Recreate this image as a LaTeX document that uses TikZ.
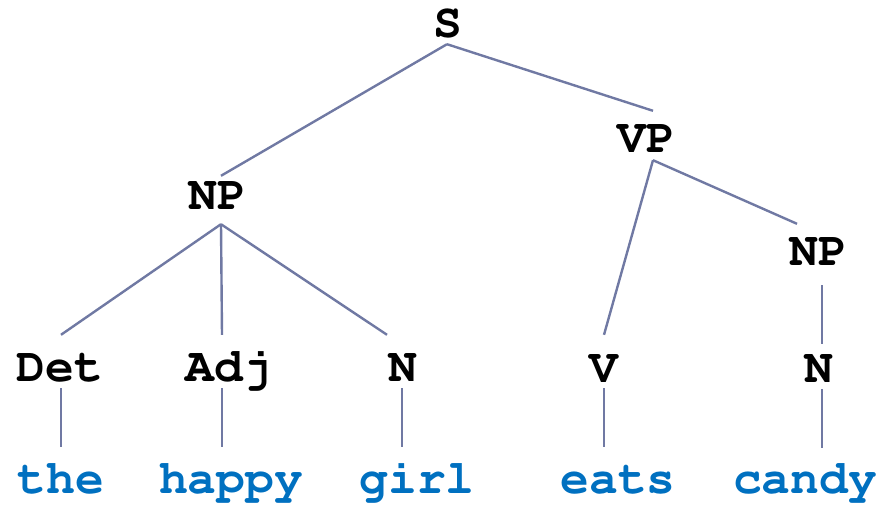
\documentclass[tikz,border=0pt]{standalone}
\usepackage[T1]{fontenc}
\definecolor{linkgray}{RGB}{112,121,163}
\definecolor{wordblue}{RGB}{0,112,192}
\tikzset{
  cat/.style={anchor=base, inner sep=0pt, text height=26pt, text depth=0pt,
              font=\fontfamily{pcr}\bfseries\fontsize{48}{48}\selectfont, text=black},
  word/.style={cat, text=wordblue},
  link/.style={draw=linkgray, line width=2.4pt}
}
\begin{document}
\begin{tikzpicture}[x=1pt, y=-1pt]
  \useasboundingbox (0,0) rectangle (879,506);

  % phrase labels
  \node[cat] (S)   at (448,37)  {S};
  \node[cat] (NPa) at (217,209) {NP};
  \node[cat] (VP)  at (646,152) {VP};
  \node[cat] (NPb) at (818,265) {NP};

  % pre-terminals
  \node[cat] (Det) at (60,381)  {Det};
  \node[cat] (Adj) at (229,381) {Adj};
  \node[cat] (Na)  at (403,381) {N};
  \node[cat] (V)   at (604,382) {V};
  \node[cat] (Nb)  at (819,382) {N};

  % words
  \node[word] (the)   at (61,493)  {the};
  \node[word] (happy) at (231,493) {happy};
  \node[word] (girl)  at (417,493) {girl};
  \node[word] (eats)  at (618,493) {eats};
  \node[word] (candy) at (805,493) {candy};

  % branches
  \draw[link] ([xshift=-1pt,yshift=-7pt]S.south)   -- ([xshift=4pt,yshift=7pt]NPa.north);
  \draw[link] ([xshift=-1pt,yshift=-7pt]S.south)   -- ([xshift=7pt,yshift=15pt]VP.north);
  \draw[link] ([xshift=4pt,yshift=-15pt]NPa.south) -- ([xshift=1pt,yshift=20pt]Det.north);
  \draw[link] ([xshift=4pt,yshift=-15pt]NPa.south) -- ([xshift=-7pt,yshift=20pt]Adj.north);
  \draw[link] ([xshift=4pt,yshift=-15pt]NPa.south) -- ([xshift=-16pt,yshift=20pt]Na.north);
  \draw[link] ([xshift=7pt,yshift=-8pt]VP.south)   -- ([yshift=21pt]V.north);
  \draw[link] ([xshift=7pt,yshift=-8pt]VP.south)   -- ([xshift=-21pt,yshift=15pt]NPb.north);
  \draw[link] ([xshift=4pt,yshift=-20pt]NPb.south) -- ([xshift=3pt,yshift=12pt]Nb.north);

  % lexical links
  \draw[link] ([xshift=1pt,yshift=-7pt]Det.south)  -- ([yshift=20pt]the.north);
  \draw[link] ([xshift=-7pt,yshift=-7pt]Adj.south) -- ([xshift=-9pt,yshift=20pt]happy.north);
  \draw[link] ([xshift=-1pt,yshift=-7pt]Na.south)  -- ([xshift=-15pt,yshift=20pt]girl.north);
  \draw[link] ([yshift=-6pt]V.south)               -- ([xshift=-14pt,yshift=20pt]eats.north);
  \draw[link] ([xshift=3pt,yshift=-7pt]Nb.south)   -- ([xshift=17pt,yshift=19pt]candy.north);
\end{tikzpicture}
\end{document}
